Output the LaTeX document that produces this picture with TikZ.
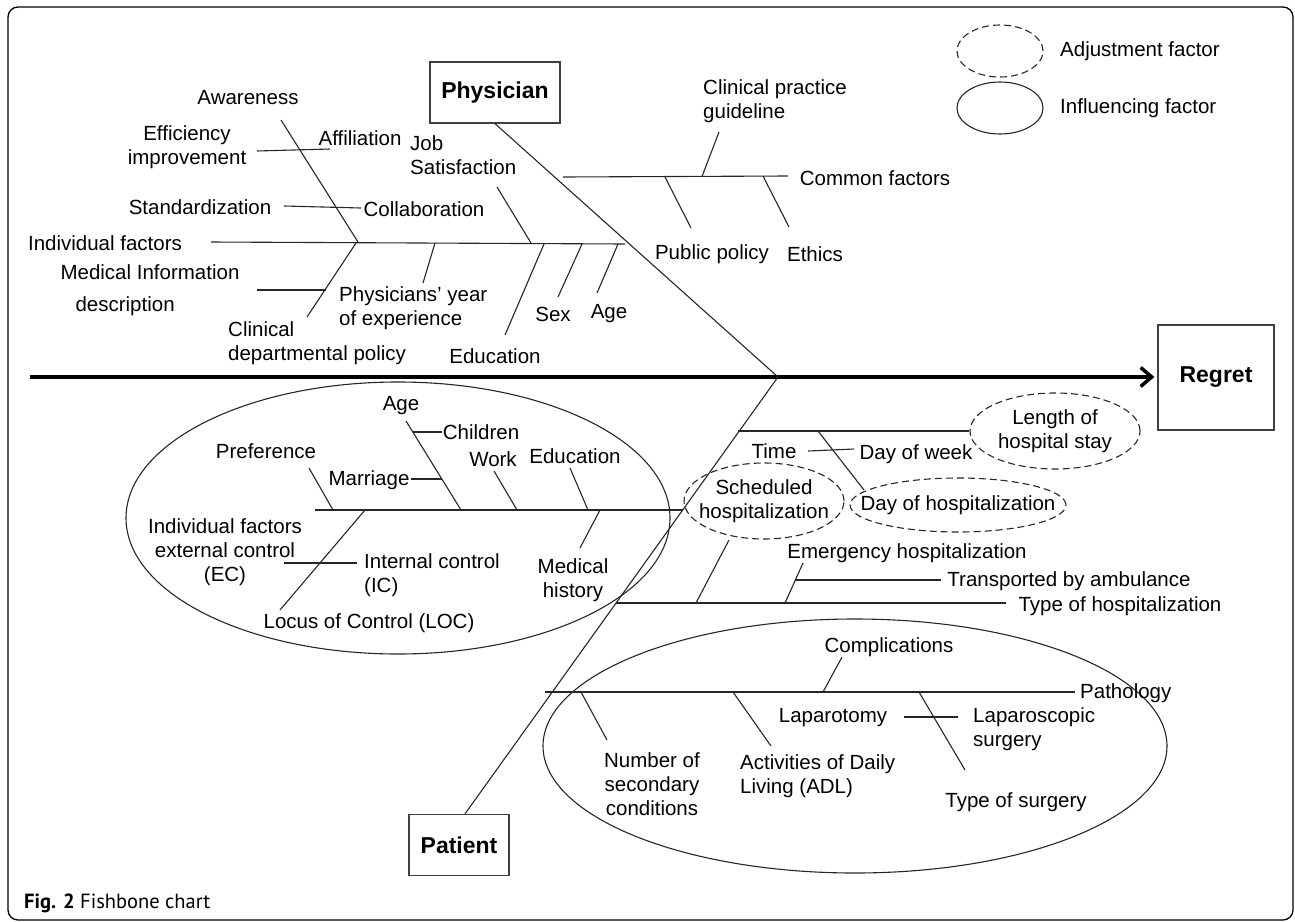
\documentclass[tikz,border=0pt]{standalone}
\usepackage{fontspec}
\setmainfont{Liberation Sans}
\newfontfamily\capfont{PT Sans}
\usetikzlibrary{positioning,shapes.geometric,arrows.meta}

\newcommand{\fishfont}{\fontsize{20.5}{24}\selectfont}
\newcommand{\headfont}{\fontsize{23}{27}\selectfont\bfseries}

\begin{document}
\begin{tikzpicture}[x=1pt, y=-1pt,
                    lbl/.style={font=\fishfont, inner sep=0pt, align=center},
                    headbox/.style={rectangle, draw=black!75, line width=1.3pt, font=\headfont, inner sep=0pt},
                    bone/.style={draw=black!85, line width=1.1pt},
                    groupell/.style={ellipse, draw=black!85, line width=1.1pt, inner sep=0pt},
                    adjell/.style={ellipse, draw=black!85, line width=1.1pt, dash pattern=on 7pt off 4pt, inner sep=0pt}
                ]
    \useasboundingbox (0,0) rectangle (1295,921);
    \draw[line width=1.3pt, rounded corners=10pt] (8,7) rectangle (1293,920);

    \node[headbox, minimum width=130pt, minimum height=61pt] (physician) at (495,92.5) {Physician};
    \node[headbox, minimum width=100pt, minimum height=61pt] (patient) at (459,845) {Patient};
    \node[headbox, minimum width=116pt, minimum height=105pt] (regret) at (1216,377.5) {Regret};
    \coordinate (tail) at (30,377);
    \coordinate (head) at (778,377);
    \draw[line width=3.5pt, -{Straight Barb[length=11pt,width=19pt]}, shorten >=3pt] (tail) -- (tail -| regret.west);
    \draw[bone] (physician.south) -- (head);
    \draw[bone] ([xshift=6pt]patient.north) -- (head);

    \node[adjell, minimum width=86pt, minimum height=52pt] (legadj) at (1000,51) {};
    \node[groupell, minimum width=86pt, minimum height=52pt] (leginf) at (1000,108) {};
    \node[lbl, anchor=west] (legadjtxt) at (1060,51) {Adjustment factor};
    \node[lbl, anchor=west] (leginftxt) at (1060,108) {Influencing factor};

    \node[lbl] (indiv) at (105,243) {Individual factors};
    \node[lbl] (aware) at (248,98) {Awareness};
    \node[lbl] (effic) at (187,147) {Efficiency\\improvement};
    \node[lbl] (affil) at (360,138) {Affiliation};
    \node[lbl, anchor=west, align=left] (jobsat) at (410,155) {Job\\Satisfaction};
    \node[lbl] (stand) at (200,207) {Standardization};
    \node[lbl] (collab) at (424,209) {Collaboration};
    \node[lbl, align=left] (medinfo) at (150,290) {Medical Information\\[8pt]\hspace*{15pt}description};
    \node[lbl, anchor=west, align=left] (clindep) at (228,343) {Clinical\\departmental policy};
    \node[lbl, anchor=west, align=left] (phyyear) at (339,308.5) {Physicians' year\\of experience};
    \node[lbl] (educphy) at (495,356) {Education};
    \node[lbl] (sexphy) at (553,314) {Sex};
    \node[lbl] (agephy) at (609,314) {Age};

    \coordinate (indA) at (211,242); \coordinate (indB) at (625,244);
    \coordinate (awA) at (281,120);  \coordinate (awB) at (358,242);
    \coordinate (efA) at (257,151);  \coordinate (efB) at (330,149);
    \coordinate (stA) at (284,206);  \coordinate (stB) at (361,208);
    \coordinate (jsA) at (497,187);  \coordinate (jsB) at (531,243);
    \coordinate (cdA) at (356,243);  \coordinate (cdB) at (307,317);
    \coordinate (miA) at (257,290);  \coordinate (miB) at (326,290);
    \coordinate (pyA) at (435,243);  \coordinate (pyB) at (423,283);
    \coordinate (edA) at (544,244);  \coordinate (edB) at (505,335);
    \coordinate (sxA) at (582,244);  \coordinate (sxB) at (558,297);
    \coordinate (agA) at (618,244);  \coordinate (agB) at (597,293);
    \draw[bone] (indA) -- (indB);
    \draw[bone] (awA) -- (awB);
    \draw[bone] (efA) -- (efB);
    \draw[bone] (stA) -- (stB);
    \draw[bone] (jsA) -- (jsB);
    \draw[bone] (cdA) -- (cdB);
    \draw[bone] (miA) -- (miB);
    \draw[bone] (pyA) -- (pyB);
    \draw[bone] (edA) -- (edB);
    \draw[bone] (sxA) -- (sxB);
    \draw[bone] (agA) -- (agB);

    \node[lbl, anchor=west, align=left] (clinprac) at (703,101.5) {Clinical practice\\guideline};
    \node[lbl] (common) at (875,178) {Common factors};
    \node[lbl] (pubpol) at (712,254) {Public policy};
    \node[lbl] (ethics) at (815,254) {Ethics};
    \coordinate (cmA) at (563,177); \coordinate (cmB) at (788,176);
    \coordinate (cpA) at (719,132); \coordinate (cpB) at (702,176.5);
    \coordinate (ppA) at (665,177); \coordinate (ppB) at (691,228);
    \coordinate (etA) at (763,176); \coordinate (etB) at (789,227);
    \draw[bone] (cmA) -- (cmB);
    \draw[bone] (cpA) -- (cpB);
    \draw[bone] (ppA) -- (ppB);
    \draw[bone] (etA) -- (etB);

    \node[groupell, minimum width=544pt, minimum height=272pt] (personal) at (398,518) {};
    \node[adjell, minimum width=160pt, minimum height=76pt, label={[lbl]center:{Scheduled\\hospitalization}}] (sched) at (764,501) {};
    \node[lbl] (pref) at (266,451) {Preference};
    \node[lbl] (agepat) at (401,406) {Age};
    \node[lbl] (child) at (481,432) {Children};
    \node[lbl] (marr) at (369,480) {Marriage};
    \node[lbl] (work) at (493,459) {Work};
    \node[lbl] (educpat) at (575,456) {Education};
    \node[lbl] (medhist) at (573,580) {Medical\\history};
    \node[lbl] (locus) at (369,623) {Locus of Control (LOC)};
    \node[lbl] (extc) at (225,552) {Individual factors\\external control\\(EC)};
    \node[lbl, anchor=west, align=left] (intc) at (364,575) {Internal control\\(IC)};
    \coordinate (plA) at (315,510);
    \coordinate (prA) at (309,468); \coordinate (prB) at (333,510);
    \coordinate (apA) at (406,421); \coordinate (apB) at (461,510);
    \coordinate (chA) at (413,432); \coordinate (chB) at (442,432);
    \coordinate (maA) at (411,479); \coordinate (maB) at (442,479);
    \coordinate (wkA) at (494,471); \coordinate (wkB) at (517,510);
    \coordinate (epA) at (570,468); \coordinate (epB) at (588,510);
    \coordinate (mhA) at (600,510); \coordinate (mhB) at (580,548);
    \coordinate (lcA) at (365,510); \coordinate (lcB) at (280,610);
    \coordinate (ecA) at (284,563); \coordinate (ecB) at (357,563);
    \draw[bone] (plA) -- (plA -| sched.west);
    \draw[bone] (prA) -- (prB);
    \draw[bone] (apA) -- (apB);
    \draw[bone] (chA) -- (chB);
    \draw[bone] (maA) -- (maB);
    \draw[bone] (wkA) -- (wkB);
    \draw[bone] (epA) -- (epB);
    \draw[bone] (mhA) -- (mhB);
    \draw[bone] (lcA) -- (lcB);
    \draw[bone] (ecA) -- (ecB);

    \node[adjell, minimum width=170pt, minimum height=76pt, label={[lbl]center:{Length of\\hospital stay}}] (lenstay) at (1055,431) {};
    \node[adjell, minimum width=216pt, minimum height=54pt, label={[lbl]center:{Day of hospitalization}}] (dayhosp) at (958,505) {};
    \node[lbl] (time) at (774,451) {Time};
    \node[lbl] (dayweek) at (916,454) {Day of week};
    \node[lbl] (emerg) at (907,553) {Emergency hospitalization};
    \node[lbl] (ambul) at (1069,581) {Transported by ambulance};
    \node[lbl] (typehosp) at (1120,606) {Type of hospitalization};
    \coordinate (lsA) at (738,431);
    \coordinate (dhA) at (818,431); \coordinate (dhB) at (864,490);
    \coordinate (tmA) at (808,451); \coordinate (tmB) at (854,449);
    \coordinate (shA) at (729,540); \coordinate (shB) at (696,603);
    \coordinate (tyA) at (616,603); \coordinate (tyB) at (1006,603);
    \coordinate (emA) at (803,563); \coordinate (emB) at (785,603);
    \coordinate (trA) at (795,580); \coordinate (trB) at (941,580);
    \draw[bone] (lsA) -- (lenstay.west);
    \draw[bone] (dhA) -- (dhB);
    \draw[bone] (tmA) -- (tmB);
    \draw[bone] (shA) -- (shB);
    \draw[bone] (tyA) -- (tyB);
    \draw[bone] (emA) -- (emB);
    \draw[bone] (trA) -- (trB);

    \node[groupell, minimum width=624pt, minimum height=254pt] (clinical) at (855,746) {};
    \node[lbl] (compl) at (889,647) {Complications};
    \node[lbl, anchor=west] (patho) at (1080,693) {Pathology};
    \node[lbl] (numsec) at (652,784) {Number of\\secondary\\conditions};
    \node[lbl, anchor=west, align=left] (adl) at (740,776) {Activities of Daily\\Living (ADL)};
    \node[lbl] (tsurg) at (1016,802) {Type of surgery};
    \node[lbl] (laparot) at (833,718) {Laparotomy};
    \node[lbl, anchor=west, align=left] (laparos) at (973,729.5) {Laparoscopic\\surgery};
    \coordinate (paA) at (545,692); \coordinate (paB) at (1075,692);
    \coordinate (coA) at (842,657); \coordinate (coB) at (823,692);
    \coordinate (nuA) at (581,692); \coordinate (nuB) at (607,740);
    \coordinate (adA) at (733,692); \coordinate (adB) at (771,746);
    \coordinate (tsA) at (919,692); \coordinate (tsB) at (965,770);
    \coordinate (lpA) at (904,717); \coordinate (lpB) at (958,717);
    \draw[bone] (paA) -- (paB);
    \draw[bone] (coA) -- (coB);
    \draw[bone] (nuA) -- (nuB);
    \draw[bone] (adA) -- (adB);
    \draw[bone] (tsA) -- (tsB);
    \draw[bone] (lpA) -- (lpB);

    \node[anchor=west, inner sep=0pt, font=\capfont\fontsize{20.5}{24}\selectfont] (caption) at (24,903) {\textbf{Fig. 2} Fishbone chart};
\end{tikzpicture}
\end{document}
